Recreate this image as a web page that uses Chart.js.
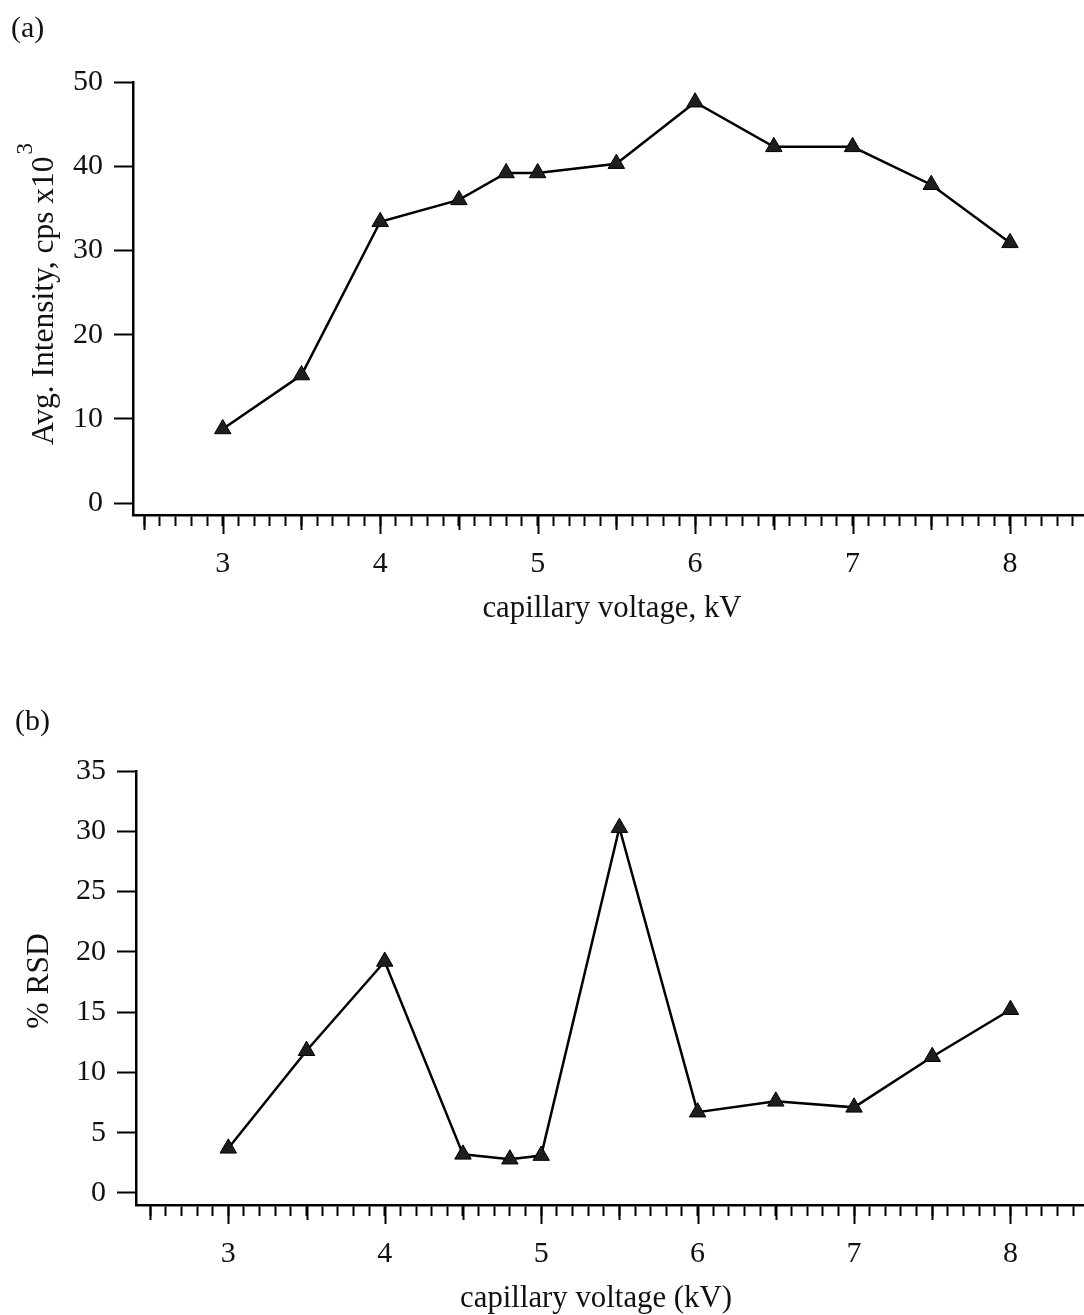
<!DOCTYPE html>
<html>
<head>
<meta charset="utf-8">
<script src="https://cdn.jsdelivr.net/npm/chart.js@4.4.1/dist/chart.umd.min.js"></script>
<style>
  html, body { margin: 0; padding: 0; background: #fff; }
  #wrap { position: relative; width: 1084px; height: 1315px; overflow: hidden; background: #fff; }
  #wrap canvas { position: absolute; left: 0; }
</style>
</head>
<body>
<div id="wrap">
  <canvas id="chartA" width="1084" height="650" style="top:0"></canvas>
  <canvas id="chartB" width="1084" height="665" style="top:650px"></canvas>
</div>
<script>
// Capillary voltage (kV) of each measurement
const voltage = [3, 3.5, 4, 4.5, 4.8, 5, 5.5, 6, 6.5, 7, 7.5, 8];
// (a) average intensity, cps x10^3
const avgIntensity = [8.8, 15.2, 33.4, 36.0, 39.2, 39.2, 40.3, 47.6, 42.3, 42.3, 37.8, 30.9];
// (b) relative standard deviation, %
const rsdPercent = [3.7, 11.8, 19.2, 3.2, 2.8, 3.1, 30.3, 6.7, 7.6, 7.1, 11.3, 15.2];

// Tick labels
const intensityTicks = [0, 10, 20, 30, 40, 50];
const rsdTicks = [0, 5, 10, 15, 20, 25, 30, 35];
const voltageTicks = [3, 4, 5, 6, 7, 8];

const SERIF = '"Liberation Serif", "Times New Roman", serif';
const INK = '#111';

// Axis titles and panel letters drawn on the canvas (supports a superscript)
function makeCaptions(items) {
  return {
    id: 'captions',
    afterDraw(chart) {
      const ctx = chart.ctx;
      items.forEach(it => {
        ctx.save();
        ctx.fillStyle = INK;
        ctx.textBaseline = 'alphabetic';
        ctx.textAlign = 'left';
        ctx.translate(it.x, it.y);
        if (it.rotate) ctx.rotate(-Math.PI / 2);
        const mainFont = (it.size || 30) + 'px ' + SERIF;
        const supFont = '23px ' + SERIF;
        ctx.font = mainFont;
        const w1 = ctx.measureText(it.text).width;
        let w2 = 0;
        if (it.sup) { ctx.font = supFont; w2 = ctx.measureText(it.sup).width + 2; }
        const start = it.align === 'left' ? 0 : -(w1 + w2) / 2;
        ctx.font = mainFont;
        ctx.fillText(it.text, start, 0);
        if (it.sup) {
          ctx.font = supFont;
          ctx.fillText(it.sup, start + w1 + 2, -21);
        }
        ctx.restore();
      });
    }
  };
}

// Longer tick marks at whole and half volts on the x axis
const longTicks = {
  id: 'longTicks',
  afterDraw(chart) {
    const sc = chart.scales.x;
    const ctx = chart.ctx;
    ctx.save();
    ctx.strokeStyle = '#000';
    ctx.lineWidth = 2;
    sc.ticks.forEach(t => {
      const tenth = Math.round(t.value * 10);
      let len = 0;
      if (tenth % 10 === 0) len = 19;
      else if (tenth % 5 === 0) len = 15;
      if (!len) return;
      const px = Math.round(sc.getPixelForValue(t.value)) + 0.5;
      ctx.beginPath();
      ctx.moveTo(px, sc.top);
      ctx.lineTo(px, sc.top + len);
      ctx.stroke();
    });
    ctx.restore();
  }
};

function buildChart(id, values, cfg) {
  const points = voltage.map((v, i) => ({ x: v, y: values[i] }));
  return new Chart(document.getElementById(id), {
    type: 'line',
    data: {
      datasets: [{
        data: points,
        borderColor: '#000',
        borderWidth: 2.5,
        tension: 0,
        fill: false,
        pointStyle: 'triangle',
        pointRadius: 9.5,
        pointBackgroundColor: '#1e1e1e',
        pointBorderColor: '#000',
        pointBorderWidth: 1,
        clip: false
      }]
    },
    options: {
      responsive: false,
      animation: false,
      devicePixelRatio: 1,
      layout: { autoPadding: false, padding: { top: cfg.padTop, left: 0, right: 0, bottom: 0 } },
      plugins: { legend: { display: false }, tooltip: { enabled: false } },
      scales: {
        x: {
          type: 'linear',
          position: 'bottom',
          min: cfg.xMin,
          max: cfg.xMax,
          afterBuildTicks(scale) {
            const list = [];
            for (let k = Math.ceil(scale.min * 10); k <= Math.floor(scale.max * 10); k++) {
              list.push({ value: k / 10 });
            }
            scale.ticks = list;
          },
          afterFit(scale) {
            scale.height = cfg.xHeight;
            scale.paddingLeft = 0;
            scale.paddingRight = 0;
          },
          grid: {
            display: true, drawOnChartArea: false, drawTicks: true,
            tickLength: 11, tickWidth: 2, tickColor: '#000'
          },
          border: { display: true, color: '#000', width: 2.5 },
          ticks: {
            autoSkip: false, maxRotation: 0, minRotation: 0,
            padding: cfg.xLabelPad,
            color: INK,
            font: { family: SERIF, size: 30 },
            callback(v) {
              const r = Math.round(v);
              return (Math.abs(v - r) < 1e-6 && voltageTicks.includes(r)) ? String(r) : '';
            }
          },
          title: { display: false }
        },
        y: {
          type: 'linear',
          position: 'left',
          min: cfg.yMin,
          max: cfg.yMax,
          afterBuildTicks(scale) { scale.ticks = cfg.yTicks.map(v => ({ value: v })); },
          afterFit(scale) { scale.width = cfg.yWidth; },
          grid: {
            display: true, drawOnChartArea: false, drawTicks: true,
            tickLength: 19, tickWidth: 2, tickColor: '#000'
          },
          border: { display: true, color: '#000', width: 2.5 },
          ticks: {
            padding: 11,
            color: INK,
            font: { family: SERIF, size: 30 },
            callback(v) { return String(v); }
          },
          title: { display: false }
        }
      }
    },
    plugins: [longTicks, makeCaptions(cfg.captions)]
  });
}

// (a) average intensity vs capillary voltage
buildChart('chartA', avgIntensity, {
  padTop: 82, xHeight: 135, xLabelPad: 20, yWidth: 133,
  xMin: 2.43, xMax: 8.47, yMin: -1.42, yMax: 50, yTicks: intensityTicks,
  captions: [
    { text: '(a)', x: 11, y: 37, align: 'left' },
    { text: 'Avg. Intensity, cps x10', sup: '3', x: 53, y: 294, rotate: true, size: 31.5 },
    { text: 'capillary voltage, kV', x: 612, y: 617, size: 30.8 }
  ]
});

// (b) %RSD vs capillary voltage
buildChart('chartB', rsdPercent, {
  padTop: 121, xHeight: 110, xLabelPad: 20, yWidth: 136,
  xMin: 2.41, xMax: 8.47, yMin: -1, yMax: 35, yTicks: rsdTicks,
  captions: [
    { text: '(b)', x: 15, y: 80, align: 'left' },
    { text: '% RSD', x: 48, y: 331, rotate: true, size: 31.5 },
    { text: 'capillary voltage (kV)', x: 596, y: 657, size: 30.8 }
  ]
});
</script>
</body>
</html>
